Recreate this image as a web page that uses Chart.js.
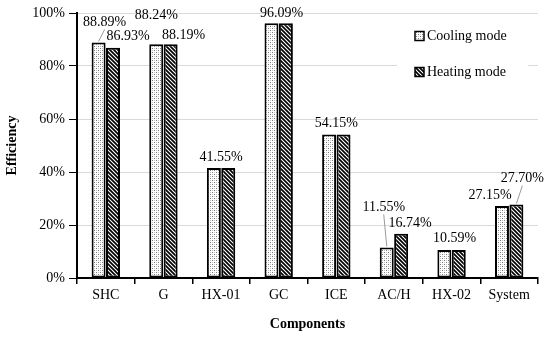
<!DOCTYPE html>
<html>
<head>
<meta charset="utf-8">
<script src="https://cdn.jsdelivr.net/npm/chart.js@4.4.0/dist/chart.umd.min.js"></script>
<style>
  html, body { margin: 0; padding: 0; background: #fff; }
  #wrap { width: 550px; height: 339px; position: relative; }
</style>
</head>
<body>
<div id="wrap"><canvas id="bar-chart"></canvas></div>
<script>
const components = ["SHC", "G", "HX-01", "GC", "ICE", "AC/H", "HX-02", "System"];
const coolingMode = [88.89, 88.24, 41.55, 96.09, 54.15, 11.55, 10.59, 27.15];
const heatingMode = [86.93, 88.19, 41.55, 96.09, 54.15, 16.74, 10.59, 27.70];
const yTicks = [0, 20, 40, 60, 80, 100];
const seriesNames = ["Cooling mode", "Heating mode"];

// label nudges (dx, dy from bar top, leader line) - like the moved labels in the original
const coolNudge = [[6, -20, true], [0, -29, false], [0, -11, false], [3, -10, false],
                   [0, -11, false], [-3, -40, true], [3, -12, false], [-12, -11, false]];
const heatNudge = [[15, -11, false], [13, -9, false], null, null,
                   null, [9, -10, false], null, [6, -26, true]];

const FONT = "'Liberation Serif', 'Times New Roman', serif";

function dotPattern() {
  let c = document.createElement("canvas");
  c.width = 4; c.height = 4;
  let g = c.getContext("2d");
  g.fillStyle = "#fff";
  g.fillRect(0, 0, 4, 4);
  g.fillStyle = "#7a7a7a";
  g.fillRect(0, 0, 1, 1);
  g.fillRect(2, 2, 1, 1);
  g.fillStyle = "#c4c4c4";
  g.fillRect(2, 0, 1, 1);
  g.fillRect(0, 2, 1, 1);
  return g.createPattern(c, "repeat");
}

function hatchPattern() {
  let c = document.createElement("canvas");
  c.width = 4; c.height = 4;
  let g = c.getContext("2d");
  g.fillStyle = "#fff";
  g.fillRect(0, 0, 4, 4);
  g.strokeStyle = "#000";
  g.lineWidth = 1.7;
  g.beginPath();
  g.moveTo(-1, -1); g.lineTo(5, 5);
  g.moveTo(-1, 3); g.lineTo(1, 5);
  g.moveTo(3, -1); g.lineTo(5, 1);
  g.stroke();
  return g.createPattern(c, "repeat");
}

const coolFill = dotPattern();
const heatFill = hatchPattern();

function fmt(v) {
  return v.toFixed(2) + "%";
}

let valueLabels = {
  id: "valueLabels",
  afterDatasetsDraw(chart) {
    let ctx = chart.ctx;
    let m0 = chart.getDatasetMeta(0);
    let m1 = chart.getDatasetMeta(1);
    ctx.save();
    ctx.font = "14px " + FONT;
    ctx.fillStyle = "#000";
    ctx.textAlign = "center";
    ctx.textBaseline = "middle";
    ctx.strokeStyle = "#9a9a9a";
    ctx.lineWidth = 1;
    for (let i = 0; i < components.length; i++) {
      let b0 = m0.data[i], b1 = m1.data[i];
      if (coolingMode[i] === heatingMode[i]) {
        let n = coolNudge[i];
        let cx = (b0.x + b1.x) / 2;
        ctx.fillText(fmt(coolingMode[i]), cx + n[0], Math.min(b0.y, b1.y) + n[1]);
        continue;
      }
      let pairs = [[b0, coolingMode[i], coolNudge[i]], [b1, heatingMode[i], heatNudge[i]]];
      for (let p of pairs) {
        let bar = p[0], n = p[2];
        let lx = bar.x + n[0], ly = bar.y + n[1];
        if (n[2]) {
          ctx.beginPath();
          ctx.moveTo(bar.x, bar.y - 1);
          ctx.lineTo(lx, ly + 7);
          ctx.stroke();
        }
        ctx.fillText(fmt(p[1]), lx, ly);
      }
    }
    ctx.restore();
  },
};

let boxLegend = {
  id: "boxLegend",
  afterDraw(chart) {
    let ctx = chart.ctx;
    let a = chart.chartArea;
    let x0 = a.right - 141, y0 = a.top + 6;
    ctx.save();
    ctx.fillStyle = "#fff";
    ctx.fillRect(x0, y0, 131, 92);
    let fills = [coolFill, heatFill];
    ctx.font = "14px " + FONT;
    ctx.textBaseline = "middle";
    for (let k = 0; k < 2; k++) {
      let yy = y0 + 17 + k * 36;
      ctx.fillStyle = fills[k];
      ctx.fillRect(x0 + 18, yy - 4.5, 9, 9);
      ctx.strokeStyle = "#000";
      ctx.lineWidth = 1.5;
      ctx.strokeRect(x0 + 18, yy - 4.5, 9, 9);
      ctx.fillStyle = "#000";
      ctx.fillText(seriesNames[k], x0 + 30, yy);
    }
    ctx.restore();
  },
};

let myChart = document.getElementById("bar-chart").getContext("2d");

let barChart = new Chart(myChart, {
  type: "bar",
  data: {
    labels: components,
    datasets: [
      {
        label: seriesNames[0],
        data: coolingMode,
        backgroundColor: coolFill,
        borderColor: "#000",
        borderWidth: 2,
        borderSkipped: false,
      },
      {
        label: seriesNames[1],
        data: heatingMode,
        backgroundColor: heatFill,
        borderColor: "#000",
        borderWidth: 2,
        borderSkipped: false,
      },
    ],
  },
  options: {
    responsive: true,
    maintainAspectRatio: false,
    animation: false,
    layout: {
      padding: { top: 13, right: 12, left: 0, bottom: 0 },
    },
    datasets: {
      bar: { categoryPercentage: 0.5, barPercentage: 0.97 },
    },
    plugins: {
      legend: { display: false },
      tooltip: { enabled: false },
    },
    scales: {
      x: {
        offset: true,
        grid: {
          offset: true,
          drawOnChartArea: false,
          drawTicks: true,
          tickLength: 6,
          color: "#000",
          lineWidth: 1.5,
        },
        border: { color: "#000", width: 2 },
        ticks: {
          color: "#000",
          font: { family: FONT, size: 14 },
          padding: 3,
          maxRotation: 0,
          autoSkip: false,
        },
        title: {
          display: true,
          text: "Components",
          color: "#000",
          font: { family: FONT, size: 14, weight: "bold" },
          padding: { top: 4, bottom: 6 },
        },
        afterFit: (s) => { s.height = 61; },
      },
      y: {
        min: 0,
        max: 100,
        afterBuildTicks: (s) => { s.ticks = yTicks.map((v) => ({ value: v })); },
        ticks: {
          color: "#000",
          font: { family: FONT, size: 14 },
          padding: 4,
          callback: (v) => v + "%",
        },
        grid: {
          color: "#d9d9d9",
          tickColor: "#000",
          tickLength: 8,
          lineWidth: 1,
        },
        border: { color: "#000", width: 2 },
        title: {
          display: true,
          text: "Efficiency",
          color: "#000",
          font: { family: FONT, size: 14, weight: "bold" },
          padding: { top: 4, bottom: 4 },
        },
        afterFit: (s) => { s.width = 77; },
      },
    },
  },
  plugins: [valueLabels, boxLegend],
});
</script>
</body>
</html>
